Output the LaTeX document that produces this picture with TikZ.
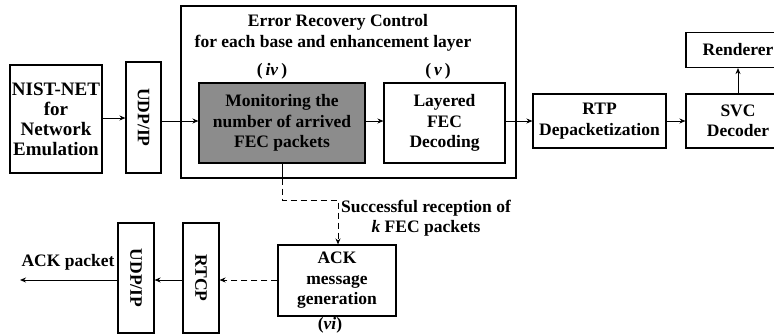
\documentclass[tikz,border=0pt]{standalone}
\usepackage{fontspec}
\usepackage{graphicx}
\setmainfont{Liberation Serif}
\usetikzlibrary{arrows.meta}

\begin{document}
\begin{tikzpicture}[x=1pt,y=-1pt,
  txt/.style={font=\bfseries\fontsize{17.5}{20.5}\selectfont, align=center, inner sep=0pt},
  box/.style={txt, draw, line width=1.1pt},
  vbox/.style={box, minimum width=36pt, minimum height=110pt},
  arr/.style={-{Stealth[length=6pt,width=5pt]}, line width=1pt},
  darr/.style={arr, dashed, dash pattern=on 6pt off 4pt}]
\useasboundingbox (0,0) rectangle (774,335);

% receiver chain
\node[box, font=\bfseries\fontsize{19}{20}\selectfont, minimum width=92pt, minimum height=108pt] (nist) at (56,119)
  {NIST-NET\\for\\Network\\Emulation};
\node[vbox, minimum width=35pt, minimum height=111pt] (udpa) at (143.5,117.5)
  {\rotatebox{-90}{UDP/IP}};

% error recovery control block
\node[draw, line width=1.1pt, minimum width=335pt, minimum height=172pt, inner sep=0pt] (erc) at (348.5,92) {};
\node[txt] (erct) at (338,22) {Error Recovery Control};
\node[txt] (ercs) at (333,43) {for each base and enhancement layer};
\node[box, fill=black!45, minimum width=166pt, minimum height=80pt] (mon) at (282,123)
  {Monitoring the\\number of arrived\\FEC packets};
\node[box, minimum width=121pt, minimum height=80pt] (fec) at (444.5,123)
  {Layered\\FEC\\Decoding};
\node[txt] (iv) at (272,71) {(\,\textit{iv}\,)};
\node[txt] (v) at (438,71) {(\,\textit{v}\,)};

\node[box, minimum width=133pt, minimum height=54pt] (rtp) at (599.5,121)
  {RTP\\Depacketization};
\node[box, minimum width=104pt, minimum height=54pt] (svc) at (738,121)
  {SVC\\Decoder};
\node[box, minimum width=104pt, minimum height=35pt] (rend) at (738,50)
  {Renderer};

% feedback path
\node[box, minimum width=118pt, minimum height=71pt] (ack) at (337,280.5)
  {ACK\\message\\generation};
\node[txt] (vi) at (330,325) {(\textit{vi})};
\node[vbox] (rtcp) at (201,278) {\rotatebox{-90}{RTCP}};
\node[vbox] (udpb) at (136,278) {\rotatebox{-90}{UDP/IP}};
\node[txt] (ackp) at (68,262) {ACK packet};
\node[txt] (succ) at (426,218) {Successful reception of\\\textit{k} FEC packets};

\coordinate (row) at (0,121);
\coordinate (frow) at (0,280);
\coordinate (bend) at (338,200);
\coordinate (out) at (20,280);

% forward connectors
\draw[arr] (nist.east |- 0,118) -- (udpa.west |- 0,118);
\draw[arr] (udpa.east |- row) -- (mon.west |- row);
\draw[arr] (mon.east |- row) -- (fec.west |- row);
\draw[arr] (fec.east |- row) -- (rtp.west |- row);
\draw[arr] (rtp.east |- row) -- (svc.west |- row);
\draw[arr] (svc.north) -- (rend.south);

% acknowledgement connectors
\draw[line width=1pt] (mon.south) -- (mon.south |- erc.south);
\draw[darr] (mon.south |- erc.south) -- (mon.south |- bend) -- (bend) -- (ack.north -| bend);
\draw[darr] (ack.west |- frow) -- (rtcp.east |- frow);
\draw[arr] (rtcp.west |- frow) -- (udpb.east |- frow);
\draw[arr] (udpb.west |- frow) -- (out);
\end{tikzpicture}
\end{document}
